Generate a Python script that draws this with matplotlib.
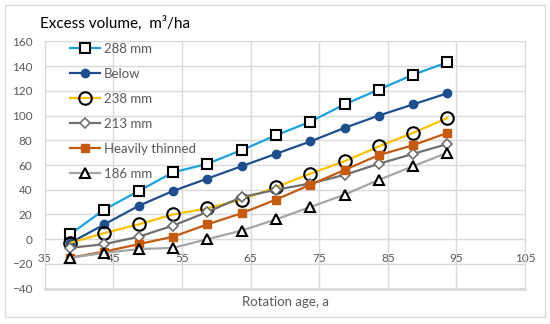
import matplotlib
matplotlib.use("Agg")
import matplotlib.pyplot as plt
from matplotlib.patches import Rectangle

plt.rcParams['font.family'] = ['Lato', 'DejaVu Sans']

rotation_age = [38.7, 43.7, 48.7, 53.7, 58.7, 63.7, 68.7, 73.7, 78.7, 83.7, 88.7, 93.7]
s288 = [4, 24, 39, 54, 61, 72, 84, 95, 109, 121, 133, 143]
below = [-3, 12, 27, 39, 49, 59, 69, 79, 90, 100, 109, 118]
s238 = [-3, 5, 12, 20, 25, 32, 42, 53, 63, 75, 86, 98]
s213 = [-7, -4, 2, 11, 22, 34, 40, 45, 52, 61, 69, 77]
heavily = [-15, -10, -4, 2, 12, 21, 32, 44, 56, 68, 76, 86]
s186 = [-15, -11, -8, -7, 0, 7, 16, 26, 36, 48, 59, 70]

x_ticks = [35, 45, 55, 65, 75, 85, 95, 105]
y_ticks = [-40, -20, 0, 20, 40, 60, 80, 100, 120, 140, 160]

W, H = 550, 324
fig = plt.figure(figsize=(W / 100, H / 100), dpi=100)
fig.patches.append(Rectangle((5 / W, 1 - 317 / H), 540 / W, 312 / H,
                             transform=fig.transFigure, fill=False,
                             edgecolor='#d9d9d9', linewidth=1))
ax = fig.add_axes([44.7 / W, 1 - 288.7 / H, (525 - 44.7) / W, (288.7 - 41.3) / H])

txt = '#595959'
grid = '#d9d9d9'

series = [
    (s288, '288 mm', dict(color='#1ba1dd', marker='s', mfc='white', mec='black', ms=7, mew=1.5)),
    (below, 'Below', dict(color='#1f4e8c', marker='o', mfc='#1f4e8c', mec='#1f4e8c', ms=6)),
    (s238, '238 mm', dict(color='#ffc000', marker='o', mfc='none', mec='black', ms=9, mew=1.5)),
    (s213, '213 mm', dict(color='#6f6f6f', marker='D', mfc='white', mec='#6f6f6f', ms=5, mew=1.2)),
    (heavily, 'Heavily thinned', dict(color='#c55a11', marker='s', mfc='#c55a11', mec='#c55a11', ms=6)),
    (s186, '186 mm', dict(color='#a5a5a5', marker='^', mfc='white', mec='black', ms=7, mew=1.5)),
]
for ys, lab, kw in series:
    ax.plot(rotation_age, ys, label=lab, lw=1.6, zorder=3, **kw)

ax.set_xlim(35, 105)
ax.set_ylim(-40, 160)
ax.set_xticks(x_ticks)
ax.set_yticks(y_ticks)
ax.grid(True, color=grid, lw=1, zorder=0)
for s in ['top', 'right', 'left']:
    ax.spines[s].set_color(grid)
ax.spines['bottom'].set_position(('data', 0))
ax.spines['bottom'].set_color(grid)
ax.tick_params(length=0, labelsize=8.5, labelcolor=txt)
ax.tick_params(axis='x', pad=10)
ax.tick_params(axis='y', pad=9)
ax.axhline(-40, color=grid, lw=2, clip_on=False, zorder=0)

fig.text(40 / W, 1 - 23 / H, 'Excess volume,  m³/ha', fontsize=11, color='black', va='center', ha='left')
fig.text(285 / W, 1 - 302 / H, 'Rotation age, a', fontsize=9.5, color=txt, va='center', ha='center')

leg = ax.legend(loc='upper left', bbox_to_anchor=(70 / W, 1 - 43 / H), bbox_transform=fig.transFigure,
                frameon=False, fontsize=9.5, handlelength=2.3, handletextpad=0.25,
                labelspacing=0.98, borderpad=0, borderaxespad=0)
for t in leg.get_texts():
    t.set_color(txt)

fig.savefig('out.png', dpi=100)
